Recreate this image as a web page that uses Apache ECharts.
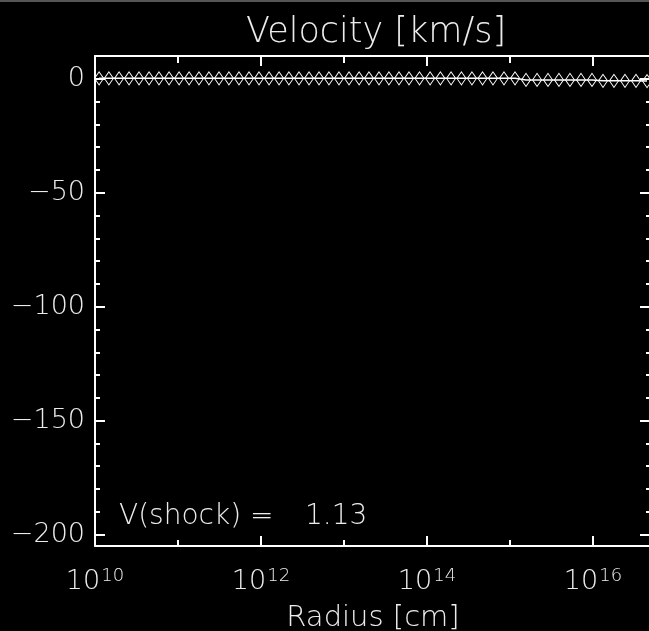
<!DOCTYPE html>
<html>
<head>
<meta charset="utf-8">
<script src="https://cdn.jsdelivr.net/npm/echarts@6/dist/echarts.min.js"></script>
<style>
  html, body { margin: 0; padding: 0; background: #000; }
  #chart { width: 649px; height: 631px; }
</style>
</head>
<body>
<div id="chart"></div>
<script>
// Radial grid points [cm]
const radius = [
  1.12e10, 1.47e10, 1.95e10, 2.57e10, 3.39e10, 4.48e10, 5.90e10, 7.80e10,
  1.03e11, 1.36e11, 1.79e11, 2.36e11, 3.12e11, 4.11e11, 5.43e11, 7.17e11, 9.46e11,
  1.25e12, 1.65e12, 2.17e12, 2.87e12, 3.79e12, 5.00e12, 6.59e12, 8.70e12,
  1.15e13, 1.52e13, 2.00e13, 2.64e13, 3.48e13, 4.60e13, 6.07e13, 8.12e13,
  1.09e14, 1.45e14, 1.95e14, 2.60e14, 3.48e14, 4.67e14, 6.24e14, 8.47e14,
  1.15e15, 1.56e15, 2.12e15, 2.87e15, 3.89e15, 5.28e15, 7.17e15, 9.73e15,
  1.32e16, 1.79e16, 2.43e16, 3.30e16, 4.48e16
];
// Velocity at each radius [km/s]
const velocity = [
  0.2, 0.2, 0.2, 0.2, 0.2, 0.2, 0.2, 0.2,
  0.2, 0.2, 0.2, 0.2, 0.2, 0.2, 0.2, 0.2, 0.2,
  0.2, 0.2, 0.2, 0.2, 0.2, 0.2, 0.2, 0.2,
  0.2, 0.2, 0.2, 0.2, 0.2, 0.2, 0.2, 0.2,
  0.2, 0.2, 0.2, 0.2, 0.2, 0.2, 0.2, 0.2,
  0.2, -0.5, -0.5, -0.5, -0.5, -0.5, -0.5, -0.5,
  -0.9, -0.9, -0.9, -0.9, -1.0
];
// Axis ticks
const yMajorTicks = [-200, -150, -100, -50, 0];
const yMinorTicks = [-200, -190, -180, -170, -160, -150, -140, -130, -120, -110, -100,
  -90, -80, -70, -60, -50, -40, -30, -20, -10, 0, 10];
const xRange = [1e10, 5e16];
const yRange = [-205, 10];
const shockLabel = 'V(shock) =';
const shockValue = '1.13';

const FONT = 'DejaVu Sans';
const INK = '#ececec';
const WEIGHT = 200;

const chart = echarts.init(document.getElementById('chart'), null, { renderer: 'canvas' });

function xAxisDef(position, interval, tickLen, showLine, showLabels) {
  return {
    type: 'log', logBase: 10, position: position,
    min: xRange[0], max: xRange[1], interval: interval,
    axisLine: { show: showLine, onZero: false, lineStyle: { color: '#fff', width: 2 } },
    axisTick: { show: true, inside: true, length: tickLen, lineStyle: { color: '#fff', width: 2 } },
    splitLine: { show: false },
    axisLabel: {
      show: showLabels, margin: 21, showMaxLabel: false,
      formatter: function (v) {
        const e = Math.log10(v);
        const n = Math.round(e);
        if (Math.abs(e - n) > 1e-6) return '';
        return '{b|10}{s|' + n + '}';
      },
      rich: {
        b: { fontFamily: FONT, fontWeight: WEIGHT, fontSize: 27, color: INK, lineHeight: 28, verticalAlign: 'bottom' },
        s: { fontFamily: FONT, fontWeight: WEIGHT, fontSize: 18, color: INK, lineHeight: 28, verticalAlign: 'top', padding: [0, 0, 0, 1] }
      }
    }
  };
}

function yAxisDef(position, ticks, tickLen, showLine, showLabels) {
  return {
    type: 'value', position: position,
    min: yRange[0], max: yRange[1],
    axisLine: { show: showLine, onZero: false, lineStyle: { color: '#fff', width: 2 } },
    axisTick: { show: true, inside: true, length: tickLen, customValues: ticks, lineStyle: { color: '#fff', width: 2 } },
    splitLine: { show: false },
    axisLabel: {
      show: showLabels, margin: 10, customValues: yMajorTicks,
      fontFamily: FONT, fontWeight: WEIGHT, fontSize: 27, color: INK,
      formatter: function (v) { return String(v).replace('-', '\u2212'); }
    }
  };
}

const bottomMinor = xAxisDef('bottom', 1, 6, true, false);
bottomMinor.name = 'Radius [cm]';
bottomMinor.nameLocation = 'middle';
bottomMinor.nameGap = 58;
bottomMinor.nameTextStyle = { fontFamily: FONT, fontWeight: WEIGHT, fontSize: 29, color: INK };

const option = {
  backgroundColor: '#000',
  animation: false,
  title: {
    text: 'Velocity [km/s]',
    left: 371, top: 10, textAlign: 'center',
    textStyle: { fontFamily: FONT, fontSize: 35, fontWeight: WEIGHT, color: INK }
  },
  grid: { left: 95, right: -2, top: 56, bottom: 85, containLabel: false, outerBoundsMode: 'none' },
  xAxis: [
    bottomMinor,
    xAxisDef('bottom', 2, 10, false, true),
    xAxisDef('top', 1, 7, true, false),
    xAxisDef('top', 2, 10, false, false)
  ],
  yAxis: [
    yAxisDef('left', yMajorTicks, 10, true, true),
    yAxisDef('left', yMinorTicks, 5, false, false),
    yAxisDef('right', yMajorTicks, 11, true, false),
    yAxisDef('right', yMinorTicks, 5, false, false)
  ],
  graphic: [
    { type: 'rect', shape: { x: 0, y: 0, width: 649, height: 2 }, style: { fill: '#555' }, silent: true },
    { type: 'text', x: 119, y: 517, silent: true,
      style: { text: shockLabel, fill: INK, font: WEIGHT + ' 28px "DejaVu Sans"', textVerticalAlign: 'middle' } },
    { type: 'text', x: 305, y: 517, silent: true,
      style: { text: shockValue, fill: INK, font: WEIGHT + ' 28px "DejaVu Sans"', textVerticalAlign: 'middle' } }
  ],
  series: [{
    type: 'line',
    xAxisIndex: 0, yAxisIndex: 0,
    data: radius.map(function (r, i) { return [r, velocity[i]]; }),
    symbol: 'path://M5,0L10,7L5,14L0,7Z',
    symbolSize: [9, 13],
    showAllSymbol: true,
    itemStyle: { color: 'rgba(0,0,0,0)', borderColor: '#fff', borderWidth: 1 },
    lineStyle: { color: '#fff', width: 1.5 },
    emphasis: { disabled: true },
    clip: false
  }]
};

chart.setOption(option);
</script>
</body>
</html>
